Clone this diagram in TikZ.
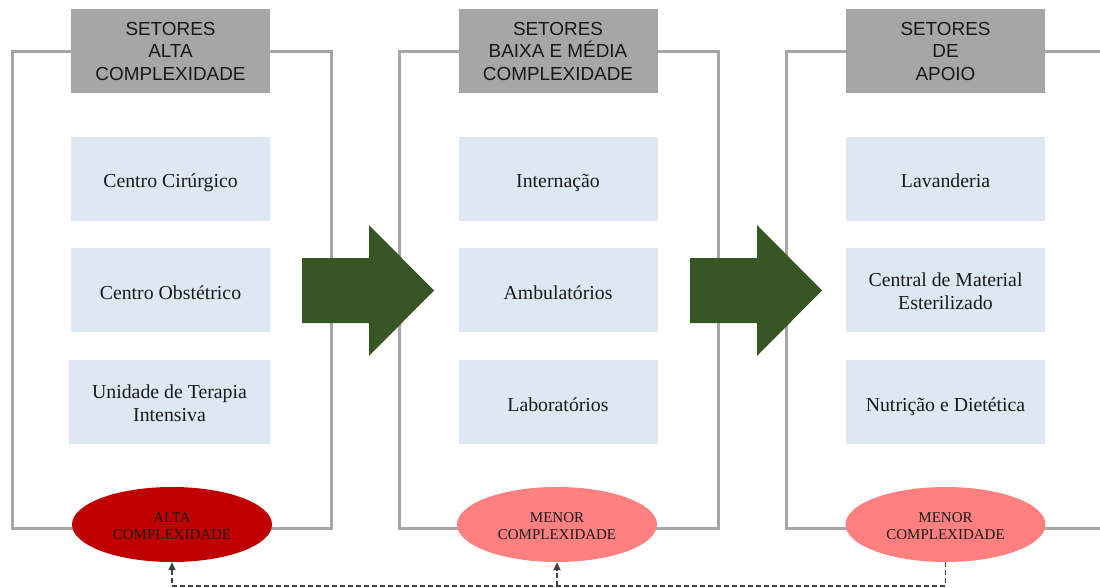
\documentclass[tikz,border=0pt]{standalone}
\usepackage{fontspec}
\setmainfont{Liberation Serif}
\newfontfamily\headfont{Liberation Sans}
\usetikzlibrary{shapes.geometric,arrows.meta}
\definecolor{headgray}{HTML}{A6A6A6}
\definecolor{cellblue}{HTML}{DEE8F5}
\definecolor{highred}{HTML}{C00000}
\definecolor{lowred}{HTML}{FF8080}
\definecolor{arrowgreen}{HTML}{375623}
\definecolor{framegray}{HTML}{A6A6A6}
\definecolor{inkgray}{HTML}{404040}
% centred block of lines, spaced by the current baselineskip,
% with extra room on top (optional argument) to set it a little lower
\newcommand\linesblock[2][6pt]{%
  \raisebox{0pt}[\dimexpr\height+#1\relax][\depth]{\begin{tabular}{@{}c@{}}#2\end{tabular}}}

\begin{document}
\begin{tikzpicture}[x=1pt,y=-1pt,
  panelframe/.style={draw=framegray,line width=3pt},
  header/.style={fill=headgray,minimum width=199pt,minimum height=84pt,inner sep=0pt,
    align=center,font=\headfont\fontsize{18.9}{22.5}\selectfont,text=black!90},
  cell/.style={fill=cellblue,minimum width=199pt,minimum height=84pt,inner sep=0pt,
    font=\fontsize{19.8}{23}\selectfont,text=black!90},
  oneline/.style={text height=21pt,text depth=3pt},
  rank/.style={ellipse,minimum width=200pt,minimum height=75pt,inner sep=0pt,
    font=\fontsize{15}{17}\selectfont,text=black!90},
  flow/.style={fill=arrowgreen},
  dl/.style={draw=inkgray,line width=1.5pt,dash pattern=on 5pt off 3pt},
  uparrow/.style={-{Triangle[length=8pt,width=7pt]}}
]
\useasboundingbox (0,0) rectangle (1100,588);

% panel frames
\draw[panelframe] (12,52) rectangle (331,528);
\draw[panelframe] (399,52) rectangle (718,528);
\draw[panelframe] (1104,52) -| (786,528) -- (1104,528);

% block arrows between panels
\foreach \dx in {0,388}{
  \fill[flow,xshift=\dx] (302,258) -- (369,258) -- (369,225) -- (434,290.5)
    -- (369,356) -- (369,323) -- (302,323) -- cycle;
}

% panel 1
\node[header] (h1) at (170.5,51) {SETORES\\ALTA\\COMPLEXIDADE};
\node[cell,oneline] (a1) at (170.5,179) {Centro Cirúrgico};
\node[cell,oneline] (a2) at (170.5,290) {Centro Obstétrico};
\node[cell,minimum width=201pt] (a3) at (169.5,402) {\linesblock{Unidade de Terapia\\Intensiva}};
\node[rank,fill=highred] (e1) at (172,524.5) {\linesblock[7pt]{ALTA\\COMPLEXIDADE}};

% panel 2
\node[header] (h2) at (558,51) {SETORES\\BAIXA E MÉDIA\\COMPLEXIDADE};
\node[cell,oneline] (b1) at (558,179) {Internação};
\node[cell,oneline] (b2) at (558,290) {Ambulatórios};
\node[cell,oneline] (b3) at (558,402) {Laboratórios};
\node[rank,fill=lowred] (e2) at (557,524.5) {\linesblock[7pt]{MENOR\\COMPLEXIDADE}};

% panel 3
\node[header] (h3) at (945.5,51) {SETORES\\DE\\APOIO};
\node[cell,oneline] (c1) at (945.5,179) {Lavanderia};
\node[cell] (c2) at (945.5,290) {\linesblock{Central de Material\\Esterilizado}};
\node[cell,oneline] (c3) at (945.5,402) {Nutrição e Dietética};
\node[rank,fill=lowred] (e3) at (945.5,524.5) {\linesblock[7pt]{MENOR\\COMPLEXIDADE}};

% dashed feedback line
\coordinate (base) at (0,586);
\draw[dl,uparrow] (e3.south) |- (e1.south |- base) -- (e1.south);
\draw[dl,uparrow] (e2.south |- base) -- (e2.south);
\end{tikzpicture}
\end{document}
